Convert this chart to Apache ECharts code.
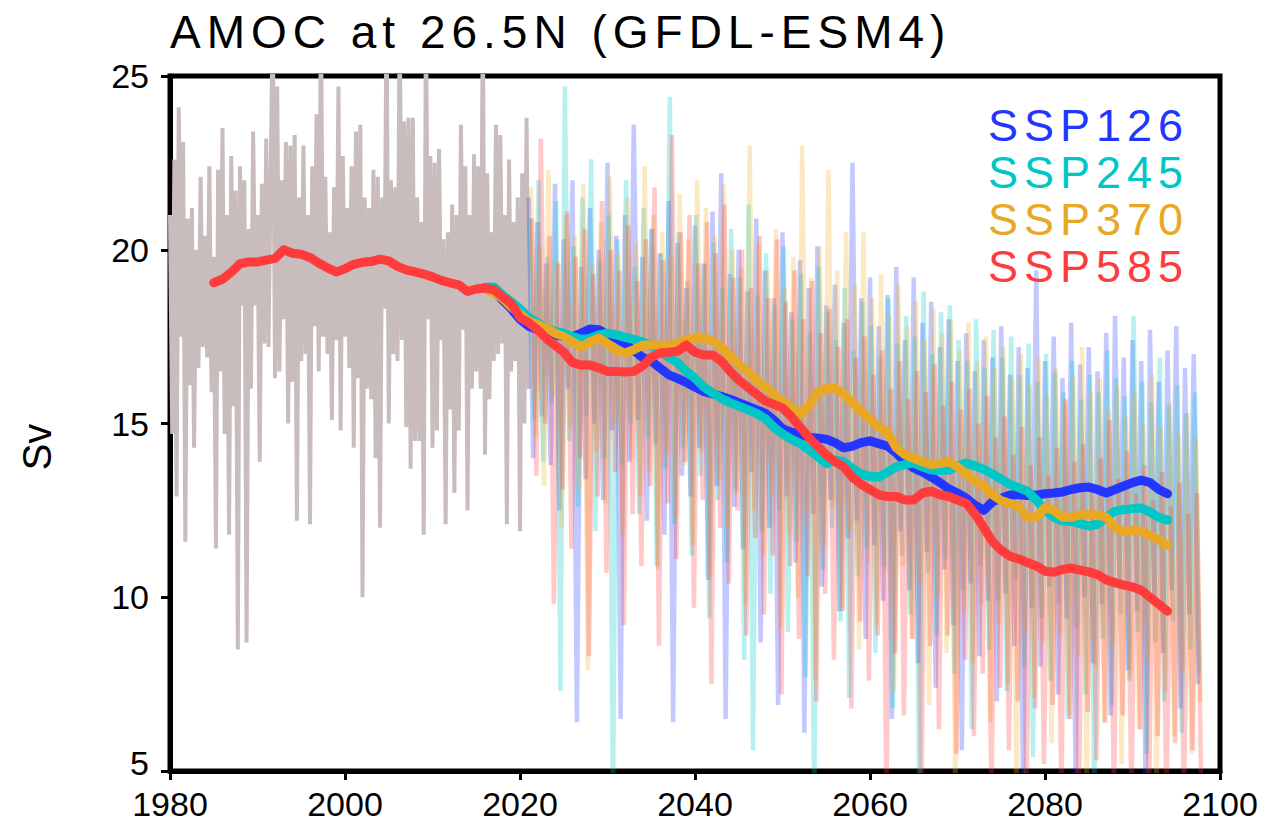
<!DOCTYPE html>
<html>
<head>
<meta charset="utf-8">
<script src="https://cdn.jsdelivr.net/npm/echarts@6/dist/echarts.min.js"></script>
<style>
html,body{margin:0;padding:0;background:#fff;}
#chart{width:1273px;height:822px;}
</style>
</head>
<body>
<div id="chart"></div>
<script>
// ---------------- data ----------------
const titleText = 'AMOC at 26.5N (GFDL-ESM4)';
const yName = 'Sv';
const xTicks = [1980, 2000, 2020, 2040, 2060, 2080, 2100];
const yTicks = [5, 10, 15, 20, 25];
const scenarioNames = ['SSP126', 'SSP245', 'SSP370', 'SSP585'];

// historical, quarterly samples from 1980.0
const histStart = 1980, histStep = 0.25;
const histValues = [
  21.0, 14.7, 22.6, 12.9,  24.1, 17.5, 23.1, 11.6,  20.9, 16.1, 21.2, 14.3,  20.0, 16.6, 22.1, 17.2,
  20.4, 16.9, 22.4, 15.9,  19.8, 11.4, 22.3, 16.5,  23.5, 14.7, 21.0, 11.8,  22.7, 15.5, 21.7, 8.5,
  22.4, 18.4, 22.0, 8.7,   20.6, 16.0, 23.4, 18.4,  21.0, 13.9, 21.9, 17.3,  23.2, 17.2, 22.0, 27.0,
  16.3, 24.7, 16.5, 22.0,  18.0, 23.1, 15.0, 23.0,  16.2, 23.3, 12.2, 21.5,  16.8, 23.0, 17.0, 21.0,
  12.1, 22.4, 17.8, 23.9,  16.5, 27.0, 17.5, 22.1,  17.0, 20.5, 15.1, 21.8,  17.4, 24.7, 14.8, 22.7,
  17.5, 21.2, 16.6, 22.4,  14.3, 23.4, 16.3, 23.6,  10.0, 21.5, 16.0, 21.2,  15.7, 22.3, 14.0, 22.1,
  12.0, 21.5, 18.3, 27.0,  15.0, 22.0, 17.0, 21.8,  16.8, 27.0, 17.4, 23.7,  14.9, 23.8, 13.7, 23.8,
  14.5, 21.5, 14.5, 20.8,  11.8, 27.0, 18.0, 22.7,  14.3, 22.5, 14.8, 22.9,  17.4, 20.3, 12.1, 20.5,
  15.4, 21.3, 13.0, 21.0,  14.8, 23.6, 17.7, 22.4,  12.5, 21.0, 16.0, 22.75, 16.5, 22.4, 16.0, 27.0,
  14.1, 22.2, 15.7, 20.5,  16.8, 23.6, 17.0, 23.3,  17.3, 21.0, 12.1, 22.6,  16.5, 20.8, 16.8, 21.5,
  11.9, 22.2, 15.0, 23.8,  16.0
];

// scenario raw series, half-yearly samples (each run sampled in a different month)
const sspStarts = [2021.0, 2021.125, 2021.25, 2021.375];
const sspStep = 0.5;
const ssp126Raw = [
  21.5,14.0, 20.8,15.2, 19.6,13.8, 21.9,12.5, 20.3,16.0, 22.0,6.4, 19.5,13.4, 21.2,15.0, 20.0,12.8, 22.5,14.8,
  20.4,6.5, 21.0,13.9, 23.6,15.1, 19.8,12.2, 20.6,14.4, 19.9,11.8, 21.4,6.4, 20.2,13.5, 18.9,12.9, 20.7,14.3,
  19.6,10.5, 21.1,13.2, 22.2,6.5, 19.3,12.6, 20.0,11.4, 18.8,13.6, 20.9,8.7, 19.4,12.0, 18.6,6.9, 20.5,12.9,
  18.2,11.0, 19.7,6.1, 18.9,12.4, 20.1,10.3, 18.4,12.8, 19.0,9.6, 17.9,11.7, 22.5,12.2, 18.6,8.8, 19.2,11.5,
  17.8,9.9, 18.7,6.5, 19.5,11.9, 17.4,10.2, 19.2,8.1, 17.9,11.3, 18.5,7.4, 17.2,10.8, 18.0,9.2, 16.8,5.6,
  17.6,10.4, 16.5,8.3, 17.4,9.9, 16.9,7.0, 17.8,10.1, 16.4,8.6, 17.2,4.2, 16.6,9.7, 19.4,8.0, 16.8,10.3,
  17.5,7.2, 16.3,9.4, 17.9,4.5, 16.7,10.0, 17.2,8.1, 16.5,9.8, 17.6,6.6, 18.1,10.5, 16.9,7.9, 17.4,9.6,
  16.8,4.2, 17.7,9.9, 16.2,8.4, 17.1,10.2, 17.8,6.8, 16.6,9.5, 17.0,7.5
];
const ssp245Raw = [
  20.9,15.1, 22.0,13.9, 19.8,15.6, 21.4,7.3, 24.7,14.5, 20.1,12.6, 21.5,15.2, 22.6,11.9, 19.7,14.0, 21.0,4.0,
  20.3,13.8, 22.0,15.0, 19.5,12.4, 21.2,14.6, 20.6,10.9, 19.9,13.7, 24.4,12.1, 20.5,14.3, 19.1,11.2, 21.0,13.5,
  19.6,9.4, 20.2,12.8, 18.9,11.0, 20.6,13.1, 19.2,8.2, 21.3,5.6, 18.7,11.9, 19.9,10.1, 18.4,12.5, 20.1,9.0,
  18.0,11.6, 19.3,7.7, 17.6,4.0, 19.5,10.8, 18.2,12.0, 17.4,9.3, 18.9,7.1, 17.1,10.6, 18.5,11.4, 17.8,8.4,
  16.9,10.9, 18.6,6.8, 17.3,11.2, 18.1,9.5, 17.5,4.0, 18.8,10.7, 17.0,8.9, 18.2,11.1, 18.4,7.8, 17.4,10.2,
  16.8,6.2, 18.0,10.9, 16.6,8.5, 17.7,9.9, 16.9,7.3, 17.5,10.5, 16.4,8.0, 17.3,5.4, 16.2,9.4, 17.0,7.6,
  16.5,9.8, 15.9,6.5, 16.8,9.1, 15.7,7.2, 16.4,4.0, 15.9,8.8, 17.1,6.9, 16.3,9.5, 15.8,7.6, 18.1,9.0,
  16.2,5.5, 15.6,8.7, 16.9,7.0, 15.5,9.3, 16.1,6.1, 15.3,8.5, 15.9,7.8
];
const ssp370Raw = [
  21.8,14.6, 20.1,13.2, 22.3,15.8, 19.7,12.0, 21.0,14.9, 20.4,13.1, 21.9,7.9, 19.6,14.2, 20.8,12.7, 22.1,15.0,
  19.9,11.8, 21.5,14.0, 20.2,12.9, 22.4,13.6, 21.0,10.8, 20.5,14.1, 19.8,12.3, 21.6,13.8, 20.3,11.5, 22.0,14.2,
  21.2,10.6, 20.4,13.4, 21.9,12.0, 20.0,13.0, 19.5,9.8, 23.0,12.5, 20.2,11.2, 19.4,12.9, 20.6,9.1, 18.9,11.8,
  19.8,10.0, 23.0,12.4, 19.2,7.6, 20.1,11.5, 22.3,12.6, 19.4,9.7, 20.5,11.9, 19.0,8.5, 20.5,11.0, 18.6,9.2,
  19.3,10.7, 18.1,7.3, 19.0,10.9, 17.8,8.8, 18.5,10.4, 17.4,6.9, 18.3,10.0, 17.6,8.4, 18.0,4.0, 17.1,9.6,
  17.9,8.1, 16.8,9.8, 17.5,6.4, 16.6,9.2, 17.2,7.5, 16.3,4.0, 17.0,9.0, 16.1,7.1, 16.9,8.7, 15.8,5.8,
  16.6,8.9, 15.6,6.6, 16.4,8.3, 17.2,4.0, 15.9,8.0, 16.3,6.4, 15.4,8.6, 16.1,5.2, 15.2,7.7, 15.9,6.2,
  15.0,8.1, 16.4,4.0, 14.9,7.3, 15.6,6.0, 14.7,7.9, 15.3,5.5, 14.6,7.0
];
const ssp585Raw = [
  20.9,13.5, 23.2,15.0, 20.4,9.8, 19.6,13.1, 21.1,11.4, 19.8,14.0, 20.6,8.3, 19.3,12.9, 21.4,10.7, 20.0,13.6,
  19.4,9.2, 20.7,12.4, 19.1,10.9, 20.3,13.2, 21.8,8.6, 19.7,12.7, 23.3,11.1, 20.5,13.9, 21.0,9.7, 19.6,12.8,
  20.8,7.5, 19.9,12.0, 21.3,10.4, 19.2,12.5, 20.0,8.9, 18.9,11.7, 20.4,9.5, 18.6,11.2, 20.3,7.2, 18.5,10.9,
  19.4,8.8, 18.0,10.6, 19.1,7.0, 17.6,10.1, 18.3,8.2, 17.2,9.6, 18.0,6.8, 16.9,9.3, 17.5,7.6, 16.4,8.9,
  17.1,4.0, 16.0,8.4, 16.8,6.6, 15.7,8.8, 16.5,4.0, 15.9,8.6, 16.7,6.2, 15.5,8.9, 16.2,5.5, 15.4,8.2,
  16.0,6.0, 15.0,7.8, 15.8,4.0, 14.6,7.4, 15.2,5.6, 14.1,7.0, 14.9,4.0, 13.8,6.8, 14.6,5.2, 13.5,6.9,
  14.3,4.0, 15.7,6.5, 13.9,4.0, 14.4,6.7, 13.2,5.3, 14.0,6.4, 15.1,4.0, 13.4,6.6, 14.2,4.0, 13.0,6.2,
  13.8,4.0, 12.8,6.0, 13.6,4.0, 12.6,5.8, 13.3,4.0, 12.4,5.6, 13.0,4.0
];

// running means, yearly
const smooth585Start = 1985;
const ssp585Smooth = [
  19.05, 19.15, 19.35, 19.60, 19.65, 19.65, 19.70, 19.75, 20.00, 19.90,
  19.87, 19.78, 19.62, 19.48, 19.36, 19.45, 19.58, 19.64, 19.66, 19.73,
  19.68, 19.52, 19.42, 19.36, 19.30, 19.22, 19.12, 19.05, 18.99, 18.80,
  18.87, 18.90, 18.85, 18.65, 18.45, 18.05, 17.90, 17.70, 17.45, 17.25,
  17.05, 16.75, 16.68, 16.68, 16.60, 16.50, 16.50, 16.48, 16.50, 16.65,
  16.90, 17.03, 17.05, 17.08, 17.26, 17.05, 16.97, 16.97, 16.80, 16.50,
  16.25, 16.05, 15.85, 15.65, 15.55, 15.45, 15.20, 14.90, 14.60, 14.35,
  14.10, 13.90, 13.75, 13.45, 13.25, 13.10, 12.95, 12.90, 12.90, 12.80,
  12.80, 13.00, 13.05, 12.95, 12.90, 12.80, 12.70, 12.40, 12.00, 11.60,
  11.35, 11.18, 11.10, 11.00, 10.90, 10.75, 10.72, 10.80, 10.84, 10.78,
  10.73, 10.65, 10.50, 10.42, 10.35, 10.30, 10.20, 10.00, 9.80, 9.60
];
const smoothStart = 2016;
const ssp126Smooth = [
  18.90, 18.80, 18.55, 18.30, 18.00, 17.80, 17.70, 17.60, 17.55, 17.50,
  17.50, 17.60, 17.72, 17.70, 17.55, 17.45, 17.30, 17.10, 16.90, 16.80,
  16.60, 16.40, 16.30, 16.18, 16.05, 15.92, 15.85, 15.78, 15.70, 15.60,
  15.50, 15.40, 15.30, 15.10, 14.85, 14.75, 14.70, 14.60, 14.58, 14.55,
  14.45, 14.30, 14.35, 14.45, 14.50, 14.42, 14.35, 14.15, 13.90, 13.72,
  13.60, 13.46, 13.30, 13.12, 13.00, 12.85, 12.65, 12.50, 12.75, 12.85,
  12.94, 12.95, 12.93, 12.94, 12.98, 13.00, 13.03, 13.10, 13.15, 13.17,
  13.10, 13.00, 13.10, 13.20, 13.30, 13.37, 13.30, 13.10, 12.98
];
const ssp245Smooth = [
  18.92, 18.93, 18.70, 18.50, 18.30, 18.05, 17.90, 17.75, 17.65, 17.60,
  17.50, 17.42, 17.45, 17.55, 17.60, 17.55, 17.48, 17.42, 17.35, 17.25,
  17.10, 16.90, 16.75, 16.50, 16.30, 16.05, 15.88, 15.72, 15.60, 15.50,
  15.40, 15.30, 15.15, 14.90, 14.70, 14.55, 14.43, 14.25, 14.05, 13.85,
  13.95, 13.90, 13.70, 13.55, 13.48, 13.46, 13.60, 13.75, 13.82, 13.86,
  13.75, 13.66, 13.65, 13.66, 13.78, 13.86, 13.78, 13.68, 13.55, 13.40,
  13.25, 13.15, 13.05, 12.80, 12.50, 12.30, 12.20, 12.18, 12.12, 12.05,
  12.10, 12.30, 12.48, 12.52, 12.55, 12.57, 12.45, 12.30, 12.22
];
const ssp370Smooth = [
  18.88, 18.75, 18.60, 18.35, 18.15, 17.95, 17.85, 17.75, 17.60, 17.50,
  17.35, 17.20, 17.35, 17.46, 17.30, 17.10, 17.03, 17.12, 17.25, 17.27,
  17.25, 17.26, 17.30, 17.40, 17.46, 17.45, 17.38, 17.20, 16.95, 16.70,
  16.50, 16.25, 16.05, 15.85, 15.65, 15.45, 15.25, 15.50, 15.90, 16.00,
  16.02, 15.85, 15.60, 15.35, 15.12, 14.90, 14.75, 14.30, 14.10, 14.00,
  13.90, 13.82, 13.85, 13.90, 13.75, 13.55, 13.35, 13.20, 12.95, 12.78,
  12.70, 12.60, 12.30, 12.30, 12.58, 12.50, 12.30, 12.30, 12.37, 12.38,
  12.37, 12.30, 12.00, 11.88, 11.92, 11.90, 11.78, 11.65, 11.50
];

// ---------------- build ----------------
function pairs(start, step, vals) { return vals.map((v, i) => [start + i * step, v]); }

const rawColors = ['rgba(40,60,255,0.28)', 'rgba(0,200,200,0.28)', 'rgba(240,175,40,0.28)', 'rgba(255,60,60,0.28)'];
const lineColors = ['#2236ff', '#00c6c6', '#e8a823', '#ff3b3b'];
const raws = [ssp126Raw, ssp245Raw, ssp370Raw, ssp585Raw];
const smooths = [
  pairs(smoothStart, 1, ssp126Smooth),
  pairs(smoothStart, 1, ssp245Smooth),
  pairs(smoothStart, 1, ssp370Smooth),
  pairs(smooth585Start, 1, ssp585Smooth)
];

const series = [];
series.push({
  name: 'historical', type: 'line', data: pairs(histStart, histStep, histValues),
  showSymbol: false, silent: true, z: 1,
  lineStyle: { color: '#c8bcbc', width: 4, join: 'bevel' }
});
raws.forEach((r, k) => series.push({
  name: scenarioNames[k] + ' raw', type: 'line', data: pairs(sspStarts[k], sspStep, r),
  showSymbol: false, silent: true, z: 2,
  lineStyle: { color: rawColors[k], width: 4.5, join: 'bevel' }
}));
smooths.forEach((s, k) => series.push({
  name: scenarioNames[k], type: 'line', data: s,
  showSymbol: false, z: 3 + k, color: lineColors[k],
  lineStyle: { color: lineColors[k], width: 9, join: 'round', cap: 'round' }
}));

const yLabelFont = { color: '#000', fontFamily: 'Liberation Sans', fontSize: 34 };

const chart = echarts.init(document.getElementById('chart'), null, { renderer: 'svg' });
chart.setOption({
  animation: false,
  backgroundColor: '#fff',
  title: {
    text: titleText, left: 170, top: 9, padding: 0,
    textStyle: { fontFamily: 'Liberation Sans', fontSize: 46, fontWeight: 'normal', color: '#000' }
  },
  legend: {
    data: scenarioNames.map((n, k) => ({ name: n, textStyle: { color: lineColors[k] } })),
    orient: 'vertical', left: 983, top: 103, padding: 0, itemGap: 2,
    itemWidth: 0, itemHeight: 0, icon: 'rect', selectedMode: false,
    textStyle: { fontFamily: 'Liberation Sans', fontSize: 45, lineHeight: 45 }
  },
  grid: { left: 170, top: 76, width: 1050, height: 695, show: true, borderColor: '#000', borderWidth: 5, backgroundColor: 'transparent' },
  xAxis: {
    type: 'value', min: xTicks[0], max: xTicks[xTicks.length - 1], interval: 20,
    axisLine: { show: true, lineStyle: { color: '#000', width: 5 } },
    axisTick: { show: true, length: 9, lineStyle: { color: '#000', width: 3 } },
    axisLabel: { margin: 19, lineHeight: 28, color: '#000', fontFamily: 'Liberation Sans', fontSize: 34, formatter: v => String(v) },
    splitLine: { show: false }
  },
  yAxis: {
    type: 'value', min: yTicks[0], max: yTicks[yTicks.length - 1], interval: 5,
    axisLine: { show: true, lineStyle: { color: '#000', width: 5 } },
    axisTick: { show: true, length: 9, lineStyle: { color: '#000', width: 3 } },
    axisLabel: Object.assign({
      margin: 21, lineHeight: 26,
      formatter: v => (v === yTicks[0] ? '{lo|' + v + '}' : String(v)),
      rich: { lo: Object.assign({ padding: [0, 0, 16, 0], lineHeight: 26 }, yLabelFont) }
    }, yLabelFont),
    splitLine: { show: false }
  },
  graphic: [{
    type: 'text', x: 37, y: 447, rotation: Math.PI / 2,
    style: { text: yName, fill: '#000', font: '40px "Liberation Sans"', align: 'center', verticalAlign: 'middle', textAlign: 'center', textVerticalAlign: 'middle' }
  }],
  series: series
});

// the reference typesets the title and the legend with wide letter spacing
function spaceText() {
  const wanted = [titleText].concat(scenarioNames);
  document.querySelectorAll('#chart text').forEach(t => {
    if (wanted.indexOf(t.textContent) >= 0) {
      t.setAttribute('letter-spacing', '6');
      t.style.letterSpacing = '6px';
    }
  });
}
chart.on('finished', spaceText);
spaceText();
setTimeout(spaceText, 50);
setTimeout(spaceText, 300);
</script>
</body>
</html>
